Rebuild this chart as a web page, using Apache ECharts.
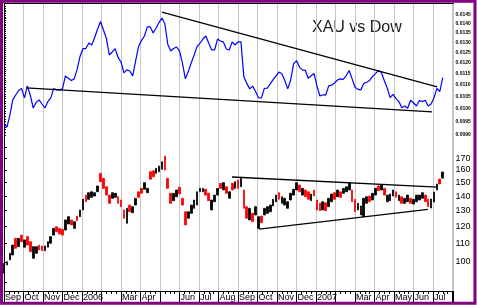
<!DOCTYPE html>
<html><head><meta charset="utf-8">
<script src="https://cdn.jsdelivr.net/npm/echarts@6/dist/echarts.min.js"></script>
<style>html,body{margin:0;padding:0;background:#fff}#c{width:477px;height:305px}</style>
</head><body><div id="c"></div>
<script>
// Month labels (one per month boundary, months since 1 Sep 2005)
const monthLabels = ['Sep','Oct','Nov','Dec','2006','','Mar','Apr','','Jun','Jul','Aug','Sep','Oct','Nov','Dec','2007','','Mar','Apr','May','Jun','Jul',''];
const sampleStartMonth = 0;
const sampleStepMonths = 0.15;

// XAU / Dow ratio (top panel)
const xauDowRatio = [
0.00940,0.00929,0.00973,0.01035,0.01055,0.01074,0.01083,0.01043,0.01094,0.01053,
0.01002,0.01024,0.01035,0.01018,0.01002,0.01028,0.01043,0.01083,0.01077,0.01077,
0.01081,0.01138,0.01128,0.01118,0.01125,0.01168,0.01230,0.01269,0.01269,0.01297,
0.01287,0.01326,0.01372,0.01413,0.01366,0.01321,0.01237,0.01252,0.01269,0.01225,
0.01203,0.01152,0.01166,0.01161,0.01138,0.01208,0.01279,0.01310,0.01334,0.01383,
0.01383,0.01350,0.01377,0.01408,0.01433,0.01399,0.01290,0.01257,0.01269,0.01277,
0.01257,0.01198,0.01125,0.01158,0.01198,0.01237,0.01279,0.01296,0.01318,0.01334,
0.01296,0.01262,0.01262,0.01318,0.01308,0.01303,0.01267,0.01262,0.01303,0.01287,
0.01303,0.01303,0.01134,0.01105,0.01081,0.01093,0.01070,0.01044,0.01043,0.01083,
0.01084,0.01103,0.01122,0.01138,0.01156,0.01148,0.01118,0.01081,0.01120,0.01194,
0.01210,0.01179,0.01166,0.01164,0.01128,0.01139,0.01149,0.01093,0.01051,0.01056,
0.01055,0.01094,0.01097,0.01107,0.01120,0.01125,0.01123,0.01140,0.01163,0.01125,
0.01088,0.01079,0.01077,0.01105,0.01110,0.01118,0.01136,0.01149,0.01163,0.01154,
0.01118,0.01085,0.01044,0.01058,0.01040,0.01028,0.01003,0.01010,0.01001,0.01033,
0.01023,0.01010,0.01032,0.01028,0.01033,0.01010,0.01018,0.01043,0.01083,0.01070,0.01131
];

// XAU index bars (bottom panel)
const xauHigh = [
99.3,100.1,104.5,109.0,112.8,112.8,114.7,111.9,113.8,110.9,
108.1,108.1,109.0,108.5,108.5,110.9,113.8,118.7,119.7,118.7,
118.1,123.9,126.0,123.9,122.8,126.4,130.4,137.7,140.7,142.4,
143.1,142.4,147.4,157.2,153.3,146.8,140.7,142.4,142.0,139.5,
137.2,130.4,131.5,133.7,132.6,138.4,143.1,145.6,149.9,145.6,
158.5,159.3,161.3,163.2,166.8,171.7,153.3,142.0,142.0,144.4,
146.4,138.4,129.2,129.2,133.7,137.2,143.1,145.6,145.6,144.9,
142.0,137.2,140.7,145.6,149.4,149.9,146.8,143.1,149.4,150.6,
151.9,154.1,144.4,132.6,131.5,128.2,132.6,126.0,126.4,131.5,
132.6,133.7,137.7,140.7,142.4,139.5,138.4,136.0,142.0,144.9,
149.9,148.1,145.6,144.4,143.1,141.5,144.4,137.2,134.9,136.0,
135.3,138.4,141.5,142.4,144.4,143.1,145.6,146.8,149.9,144.4,
137.7,134.9,133.1,138.4,139.5,140.0,142.0,145.6,147.4,148.1,
145.6,140.7,141.5,144.4,143.1,140.7,139.5,138.4,140.7,138.4,
137.7,140.7,140.7,142.4,140.7,137.7,137.9,142.9,148.9,152.7,158.3
];
const xauLow = [
94.4,98.5,101.0,103.6,107.2,108.1,110.9,107.8,109.0,105.4,
101.9,104.5,106.3,105.9,105.9,107.8,110.0,114.7,116.7,115.3,
114.7,117.7,121.4,120.8,118.7,123.4,126.0,130.4,136.0,137.7,
139.1,140.0,143.1,150.6,145.6,140.7,134.9,138.4,139.1,134.9,
132.6,125.0,121.8,129.2,128.6,133.7,139.1,142.0,144.9,142.4,
152.5,154.5,157.2,158.5,160.5,159.9,145.6,134.9,136.7,139.5,
141.5,133.7,120.8,125.0,128.2,131.5,133.7,143.1,143.1,140.7,
136.7,130.4,136.0,140.7,145.6,144.4,142.0,138.4,144.4,145.6,
145.6,146.8,131.5,125.0,123.9,122.8,127.1,118.7,122.2,127.1,
128.2,129.2,133.1,136.0,137.7,134.9,133.7,131.5,137.2,140.7,
144.4,143.1,140.7,139.5,137.7,136.7,140.0,130.4,129.9,130.4,
129.9,132.6,136.0,137.7,139.5,139.1,142.0,143.1,144.4,136.0,
129.2,130.4,127.1,126.0,134.9,136.0,137.2,140.7,143.9,144.4,
140.7,136.0,136.7,140.0,139.1,136.7,134.9,134.9,136.0,134.9,
134.4,136.0,137.2,138.4,136.0,132.6,131.7,135.8,144.4,148.9,153.4
];
// B = up bar (black), R = down bar (red)
const xauBarColor = 'BBBBRBRBRRBBRRBBBBRRRBBRBRBBRBBBBRRRRBBRRRBRBBRRBBRRBBBRRRBBRRRBBBBBBRRBBBRBRBRBRBRRBRBBRBBBBBRBBBBBBRBRRBRRRBRBBRBRBBBRRBBBBRBBRBRBBBRBRBBRBBBBRRBBBRB';

// Axis ticks
const ratioTicks = [0.0145,0.0140,0.0135,0.0130,0.0125,0.0120,0.0115,0.0110,0.0105,0.0100,0.0095,0.0090];
const xauTicks = [100,110,120,130,140,150,160,170];
const xauTickMarks = [90,100,110,120,130,140,150,160,170,180];
const ratioRange = [0.008823, 0.01521];
const xauRange = [86.2, 186.4];
const monthMax = 23.05;

// Trend lines [month, value]
const ratioUpperTrend = [[8.10, 0.01467], [22.21, 0.01090]];
const ratioLowerTrend = [[1.13, 0.01085], [21.95, 0.00987]];
const xauUpperTrend = [[11.69, 154.3], [22.21, 146.6]];
const xauLowerTrend = [[13.08, 118.3], [21.74, 130.8]];

const L = Math.log;
const ratioMinor = [];
for (let k = 90; k <= 150; k++) ratioMinor.push(L(k / 10000));

const ratioData = xauDowRatio.map((v, i) => [sampleStartMonth + i * sampleStepMonths, L(v)]);
const barData = xauHigh.map((h, i) => {
  const lo = xauLow[i];
  const up = xauBarColor[i] === 'B';
  return [sampleStartMonth + i * sampleStepMonths, L(up ? lo : h), L(up ? h : lo), L(lo), L(h)];
});
const toLog = arr => arr.map(p => [p[0], L(p[1])]);
function nearestLabel(v, ticks, fmt) {
  const x = Math.exp(v);
  let best = ticks[0];
  ticks.forEach(t => { if (Math.abs(t - x) < Math.abs(best - x)) best = t; });
  return fmt(best);
}

const grid0 = {left: 4, right: 23.5, top: 3, height: 137};
const grid1 = {left: 4, right: 23.5, top: 140, height: 151};
const trendStyle = {color: '#000', width: 1.3};
const gridLineStyle = {color: '#c6c6c6', width: 1, type: 'solid'};

const chart = echarts.init(document.getElementById('c'), null, {renderer: 'canvas'});
chart.setOption({
  animation: false,
  backgroundColor: '#fff',
  grid: [grid0, grid1],
  xAxis: [
    {gridIndex: 0, type: 'value', min: 0, max: monthMax, interval: 1, position: 'top',
     axisLine: {show: true, lineStyle: {color: '#000', width: 1}}, axisTick: {show: false},
     axisLabel: {show: false}, splitLine: {show: true, lineStyle: gridLineStyle}},
    {gridIndex: 1, type: 'value', min: 0, max: monthMax, interval: 1, position: 'bottom',
     axisLine: {show: true, lineStyle: {color: '#000', width: 1}},
     axisTick: {show: true, length: 11, lineStyle: {color: '#000'}},
     minorTick: {show: true, splitNumber: 4, length: 3, lineStyle: {color: '#000'}},
     axisLabel: {show: true, formatter: v => monthLabels[Math.round(v)] || '', align: 'left',
                 margin: 2, color: '#000', fontSize: 9, fontFamily: 'Arial', padding: [0, 0, 0, 1]},
     splitLine: {show: true, lineStyle: gridLineStyle}}
  ],
  yAxis: [
    {gridIndex: 0, type: 'value', position: 'right', min: L(ratioRange[0]), max: L(ratioRange[1]),
     axisLine: {show: true, lineStyle: {color: '#000'}},
     axisTick: {show: true, customValues: ratioMinor, length: 2, lineStyle: {color: '#000'}},
     axisLabel: {show: true, customValues: ratioTicks.map(L), margin: 2, color: '#000', fontSize: 5,
                 fontWeight: 'bold', fontFamily: 'Arial',
                 formatter: v => nearestLabel(v, ratioTicks, t => t.toFixed(4))},
     splitLine: {show: false}},
    {gridIndex: 1, type: 'value', position: 'right', min: L(xauRange[0]), max: L(xauRange[1]),
     axisLine: {show: true, lineStyle: {color: '#000'}},
     axisTick: {show: true, customValues: xauTickMarks.map(L), length: 3, lineStyle: {color: '#000'}},
     axisLabel: {show: true, customValues: xauTicks.map(L), margin: 2, color: '#000', fontSize: 9,
                 fontFamily: 'Arial', formatter: v => nearestLabel(v, xauTicks, t => String(t))},
     splitLine: {show: false}}
  ],
  series: [
    {type: 'line', xAxisIndex: 0, yAxisIndex: 0, data: ratioData, showSymbol: false, symbol: 'none',
     lineStyle: {color: '#0000ff', width: 1.2}, z: 3},
    {type: 'line', xAxisIndex: 0, yAxisIndex: 0, data: toLog(ratioUpperTrend), symbol: 'none', lineStyle: trendStyle, z: 4},
    {type: 'line', xAxisIndex: 0, yAxisIndex: 0, data: toLog(ratioLowerTrend), symbol: 'none', lineStyle: trendStyle, z: 4},
    {type: 'candlestick', xAxisIndex: 1, yAxisIndex: 1, data: barData, encode: {x: 0, y: [1, 2, 3, 4]},
     barWidth: 2.2,
     itemStyle: {color: '#000', color0: '#ff0000', borderColor: '#000', borderColor0: '#ff0000', borderWidth: 0.8}, z: 3},
    {type: 'line', xAxisIndex: 1, yAxisIndex: 1, data: toLog(xauUpperTrend), symbol: 'none', lineStyle: trendStyle, z: 4},
    {type: 'line', xAxisIndex: 1, yAxisIndex: 1, data: toLog(xauLowerTrend), symbol: 'none', lineStyle: trendStyle, z: 4}
  ],
  graphic: [
    {type: 'text', left: 312, top: 20, style: {text: 'XAU vs Dow', font: '16px Arial', fill: '#1a1a1a'}},
    {type: 'rect', shape: {x: 1.5, y: 1.25, width: 473.5, height: 302}, style: {stroke: '#800080', lineWidth: 3, fill: null}, z: 100}
  ]
});
</script></body></html>
